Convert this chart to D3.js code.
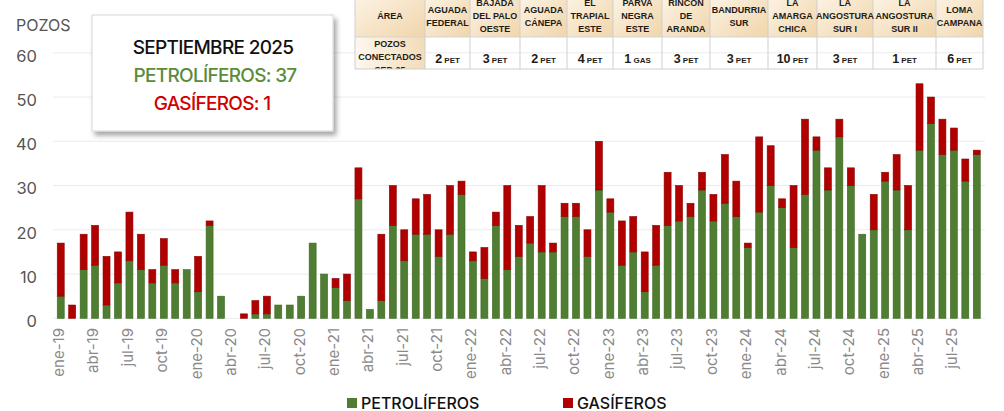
<!DOCTYPE html>
<html>
<head>
<meta charset="utf-8">
<script src="https://cdn.jsdelivr.net/npm/d3@7"></script>
<style>
  html, body { margin: 0; padding: 0; background: #fff; }
  svg { display: block; }
  text { font-family: Inter, "Open Sans", sans-serif; }
</style>
</head>
<body>
<svg id="chart" width="1004" height="411"></svg>
<script>
// ---------- DATA ----------
const monthNames = ["ene","feb","mar","abr","may","jun","jul","ago","sep","oct","nov","dic"];
const years = [19, 20, 21, 22, 23, 24, 25];
const months = [];
years.forEach(y => monthNames.forEach(m => months.push(m + "-" + y)));
months.length = 81; // ene-19 .. sep-25

const petroliferos = [
  5,0,11,12,3,8,13,11,8,12,8,11,
  6,21,5,0,0,1,1,3,3,5,17,10,
  7,4,27,2,4,21,13,19,19,14,19,28,
  13,9,21,11,14,17,15,15,23,23,14,29,
  24,12,15,6,12,21,22,23,29,22,26,23,
  16,24,30,25,16,28,38,29,41,30,19,20,
  31,29,20,38,44,37,38,31,37
];
const gasiferos = [
  12,3,8,9,11,7,11,8,3,6,3,0,
  8,1,0,0,1,3,4,0,0,0,0,0,
  2,6,7,0,15,9,7,8,9,6,11,3,
  2,7,3,19,7,6,15,2,3,3,6,11,
  3,10,8,9,9,12,8,3,4,6,11,8,
  1,17,9,2,14,17,3,5,4,4,0,8,
  2,8,10,15,6,8,5,5,1
];
const yTicks = [0,10,20,30,40,50,60];
const xTickLabels = months.filter((d, i) => i % 3 === 0);

const seriesNames = ["PETROLÍFEROS", "GASÍFEROS"];
const boxTitle = "SEPTIEMBRE 2025";
const boxLines = ["PETROLÍFEROS: 37", "GASÍFEROS: 1"];

const tableAreas = [
  ["AGUADA","FEDERAL"], ["BAJADA","DEL PALO","OESTE"], ["AGUADA","CÁNEPA"],
  ["EL","TRAPIAL","ESTE"], ["PARVA","NEGRA","ESTE"], ["RINCÓN","DE","ARANDA"],
  ["BANDURRIA","SUR"], ["LA","AMARGA","CHICA"], ["LA","ANGOSTURA","SUR I"],
  ["LA","ANGOSTURA","SUR II"], ["LOMA","CAMPANA"]
];
const tableCounts = [2,3,2,4,1,3,3,10,3,1,6];
const tableTypes  = ["PET","PET","PET","PET","GAS","PET","PET","PET","PET","PET","PET"];

// ---------- LAYOUT ----------
const colors = { pet: "#4f7d31", petStroke: "#3e6826", gas: "#b00000", gasStroke: "#8e0000" };
const svg = d3.select("#chart");

const defs = svg.append("defs");
const sh = defs.append("filter").attr("id","shadow").attr("x","-10%").attr("y","-10%").attr("width","130%").attr("height","140%");
sh.append("feDropShadow").attr("dx",3).attr("dy",4).attr("stdDeviation",2.5).attr("flood-color","#000").attr("flood-opacity",0.35);

const gH = defs.append("linearGradient").attr("id","hdrGrad").attr("x1",0).attr("y1",0).attr("x2",1).attr("y2",1);
gH.append("stop").attr("offset","0%").attr("stop-color","#fdf5e8");
gH.append("stop").attr("offset","100%").attr("stop-color","#f0d5aa");
const gF = defs.append("linearGradient").attr("id","firstGrad").attr("x1",0).attr("y1",0).attr("x2",1).attr("y2",0);
gF.append("stop").attr("offset","0%").attr("stop-color","#fdf7ee");
gF.append("stop").attr("offset","100%").attr("stop-color","#f2dcb9");

const x = d3.scaleBand().domain(months).range([53.8, 983.7]).paddingInner(0.39).paddingOuter(0.3);
const y = d3.scaleLinear().domain([0, 60]).range([318.3, 52.8]);

// gridlines
svg.append("g").selectAll("line").data(yTicks).join("line")
  .attr("x1", 53).attr("x2", 985)
  .attr("y1", d => y(d)).attr("y2", d => y(d))
  .attr("stroke", "#ebebeb").attr("stroke-width", 1);

// y axis labels
const yAxis = d3.axisLeft(y).tickValues(yTicks).tickSize(0).tickPadding(0);
const gy = svg.append("g").attr("transform", "translate(37,3)").call(yAxis);
gy.select(".domain").remove();
gy.selectAll("text").attr("fill", "#555").style("font-size", "16.5px").style("font-family","Inter, sans-serif");

svg.append("text").attr("x", 16).attr("y", 31).text("POZOS")
  .attr("fill", "#555").style("font-size", "16px");

// stacked bars
const stackData = months.map((m, i) => ({ month: m, pet: petroliferos[i], gas: gasiferos[i] }));
const stack = d3.stack().keys(["pet", "gas"])(stackData);
const barG = svg.append("g");
stack.forEach(layer => {
  barG.append("g").selectAll("rect").data(layer.filter(d => d[1] - d[0] > 0)).join("rect")
    .attr("x", d => x(d.data.month))
    .attr("width", x.bandwidth())
    .attr("y", d => y(d[1]))
    .attr("height", d => y(d[0]) - y(d[1]))
    .attr("fill", layer.key === "pet" ? colors.pet : colors.gas)
    .attr("stroke", layer.key === "pet" ? colors.petStroke : colors.gasStroke)
    .attr("stroke-width", 0.6);
});

// x axis labels
const xAxis = d3.axisBottom(x).tickValues(xTickLabels).tickSize(0).tickPadding(0);
const gx = svg.append("g").attr("transform", "translate(-2,328)").call(xAxis);
gx.select(".domain").remove();
gx.selectAll("text")
  .attr("transform", "rotate(-90)")
  .attr("text-anchor", "end")
  .attr("x", 0).attr("y", 0).attr("dy", "0.36em")
  .attr("fill", "#8a8a8a")
  .style("font-size", "15px").style("font-family","Inter, sans-serif");

// legend
const legend = svg.append("g");
const legendX = [347, 563];
seriesNames.forEach((name, i) => {
  legend.append("rect").attr("x", legendX[i]).attr("y", 398).attr("width", 10).attr("height", 10)
    .attr("fill", i === 0 ? colors.pet : colors.gas);
  legend.append("text").attr("x", legendX[i] + 14).attr("y", 408.5).text(name)
    .attr("fill", "#111").style("font-size", "16px").style("font-weight", "500");
});

// annotation box
const box = svg.append("g");
box.append("rect").attr("x", 92).attr("y", 15).attr("width", 241).attr("height", 116)
  .attr("fill", "#fff").attr("stroke", "#d6d6d6").attr("stroke-width", 1).attr("filter", "url(#shadow)");
box.append("text").attr("x", 213).attr("y", 54).attr("text-anchor", "middle").text(boxTitle)
  .attr("fill", "#111").style("font-size", "19px").style("font-weight", "500").style("letter-spacing", "-0.7px");
box.append("text").attr("x", 215).attr("y", 82).attr("text-anchor", "middle").text(boxLines[0])
  .attr("fill", "#5b8c3a").style("font-size", "19px").style("font-weight", "500").style("letter-spacing", "-0.7px");
box.append("text").attr("x", 212).attr("y", 110).attr("text-anchor", "middle").text(boxLines[1])
  .attr("fill", "#d00000").style("font-size", "19px").style("font-weight", "500").style("letter-spacing", "-0.7px");

// table
const colEdges = [355, 425, 470, 520, 567, 613, 662, 710, 768, 817, 873, 936, 983];
const tTop = -8, tMid = 37, tBot = 69;
const tbl = svg.append("g");
defs.append("clipPath").attr("id","tclip").append("rect").attr("x",354).attr("y",0).attr("width",632).attr("height",tBot);
const tc = tbl.append("g").attr("clip-path","url(#tclip)");
const tf = "'Liberation Sans', Arial, sans-serif";
for (let c = 0; c < colEdges.length - 1; c++) {
  tc.append("rect").attr("x", colEdges[c]).attr("y", tTop).attr("width", colEdges[c+1]-colEdges[c]).attr("height", tMid - tTop)
    .attr("fill", "url(#hdrGrad)");
}
tc.append("rect").attr("x", colEdges[0]).attr("y", tMid).attr("width", colEdges[1]-colEdges[0]).attr("height", tBot - tMid)
  .attr("fill", "url(#firstGrad)");
colEdges.forEach(e => tc.append("line").attr("x1", e).attr("x2", e).attr("y1", tTop).attr("y2", tBot).attr("stroke", "#cfcfcf"));
tc.append("line").attr("x1", colEdges[0]).attr("x2", colEdges[colEdges.length-1]).attr("y1", tMid).attr("y2", tMid).attr("stroke", "#d5d5d5");
tbl.append("line").attr("x1", colEdges[0]).attr("x2", colEdges[colEdges.length-1]).attr("y1", tBot).attr("y2", tBot).attr("stroke", "#cfcfcf");

function lines(g, cx, cy, arr, size) {
  const lh = 13;
  const start = cy - (arr.length - 1) * lh / 2;
  arr.forEach((t, k) => {
    g.append("text").attr("x", cx).attr("y", start + k * lh).attr("dy", "0.35em")
      .attr("text-anchor", "middle").text(t)
      .attr("fill", "#1f1b16").style("font-size", size + "px").style("font-weight", "700").style("font-family", tf);
  });
}
lines(tc, (colEdges[0]+colEdges[1])/2, 16, ["ÁREA"], 9);
tableAreas.forEach((a, i) => lines(tc, (colEdges[i+1]+colEdges[i+2])/2, 16, a, 9));
lines(tc, (colEdges[0]+colEdges[1])/2, 57, ["POZOS","CONECTADOS","SEP-25"], 9);
tableCounts.forEach((n, i) => {
  const t = tc.append("text").attr("x", (colEdges[i+1]+colEdges[i+2])/2).attr("y", 57).attr("dy", "0.35em")
    .attr("text-anchor", "middle").attr("fill", "#1f1b16").style("font-family", tf).style("font-weight","700");
  t.append("tspan").text(n).style("font-size", "12.5px");
  t.append("tspan").text(" " + tableTypes[i]).style("font-size", "8px");
});
</script>
</body>
</html>
